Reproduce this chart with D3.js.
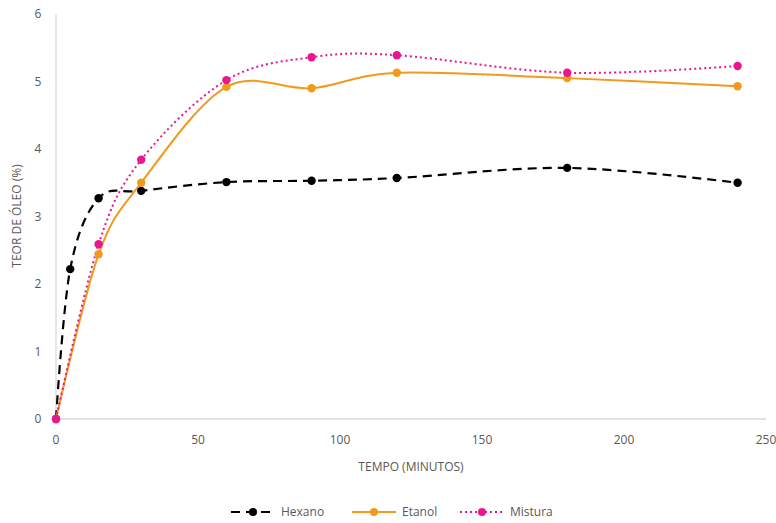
<!DOCTYPE html>
<html><head><meta charset="utf-8">
<script src="https://cdn.jsdelivr.net/npm/d3@7"></script>
<style>
body{margin:0;background:#fff;}
svg{display:block;}
text{font-family:"Open Sans","Liberation Sans",sans-serif;fill:#595959;}
</style></head><body>
<script>
const time = [0, 5, 15, 30, 60, 90, 120, 180, 240];
const timeEM = [0, 15, 30, 60, 90, 120, 180, 240];
const hexano = [0, 2.22, 3.27, 3.38, 3.51, 3.53, 3.57, 3.72, 3.50];
const etanol = [0, 2.44, 3.50, 4.92, 4.90, 5.13, 5.05, 4.93];
const mistura = [0, 2.59, 3.84, 5.02, 5.36, 5.39, 5.13, 5.23];
const xTicks = [0, 50, 100, 150, 200, 250];
const yTicks = [0, 1, 2, 3, 4, 5, 6];
const seriesNames = ["Hexano", "Etanol", "Mistura"];

const W = 776, H = 523;
const svg = d3.select("body").append("svg").attr("width", W).attr("height", H);
const x = d3.scaleLinear().domain([0, 250]).range([56, 766]);
const y = d3.scaleLinear().domain([0, 6]).range([419, 14]);

// axes lines
svg.append("line").attr("x1", x(0)).attr("x2", x(0)).attr("y1", y(6)).attr("y2", y(0))
  .attr("stroke", "#d9d9d9").attr("stroke-width", 1.3);
svg.append("line").attr("x1", x(0)).attr("x2", x(250)).attr("y1", y(0)).attr("y2", y(0))
  .attr("stroke", "#d9d9d9").attr("stroke-width", 1.3);

svg.selectAll(".yt").data(yTicks).enter().append("text")
  .attr("x", x(0) - 18).attr("y", d => y(d) + 4).attr("text-anchor", "middle")
  .attr("font-size", 12).text(d => d);
svg.selectAll(".xt").data(xTicks).enter().append("text")
  .attr("x", d => x(d)).attr("y", y(0) + 25).attr("text-anchor", "middle")
  .attr("font-size", 12).text(d => d);

svg.append("text").attr("transform", `translate(21,216) rotate(-90)`).attr("text-anchor", "middle")
  .attr("font-size", 12).text("TEOR DE ÓLEO (%)");
svg.append("text").attr("x", 411).attr("y", 471).attr("text-anchor", "middle")
  .attr("font-size", 12).text("TEMPO (MINUTOS)");

const series = [
  {name: seriesNames[0], t: time, v: hexano, color: "#000000", dash: "9,6", width: 2.2},
  {name: seriesNames[1], t: timeEM, v: etanol, color: "#F29A1C", dash: null, width: 2},
  {name: seriesNames[2], t: timeEM, v: mistura, color: "#E8178F", dash: "2,3", width: 2}
];

const line = d3.line().x(d => x(d[0])).y(d => y(d[1])).curve(d3.curveCardinal.tension(0));

series.forEach(s => {
  const pts = s.t.map((t, i) => [t, s.v[i]]);
  svg.append("path").datum(pts).attr("d", line).attr("fill", "none")
    .attr("stroke", s.color).attr("stroke-width", s.width)
    .attr("stroke-dasharray", s.dash);
});
series.forEach(s => {
  const pts = s.t.map((t, i) => [t, s.v[i]]);
  svg.selectAll(null).data(pts).enter().append("circle")
    .attr("cx", d => x(d[0])).attr("cy", d => y(d[1])).attr("r", 4.2)
    .attr("fill", s.color);
});

// legend
const legX = [231, 352, 460];
series.forEach((s, i) => {
  const g = svg.append("g").attr("transform", `translate(${legX[i]},512)`);
  g.append("line").attr("x1", 0).attr("x2", 44).attr("y1", 0).attr("y2", 0)
    .attr("stroke", s.color).attr("stroke-width", s.width).attr("stroke-dasharray", s.dash);
  g.append("circle").attr("cx", 22).attr("cy", 0).attr("r", 4).attr("fill", s.color);
  g.append("text").attr("x", 50).attr("y", 4).attr("font-size", 12).text(s.name);
});
</script>
</body></html>
